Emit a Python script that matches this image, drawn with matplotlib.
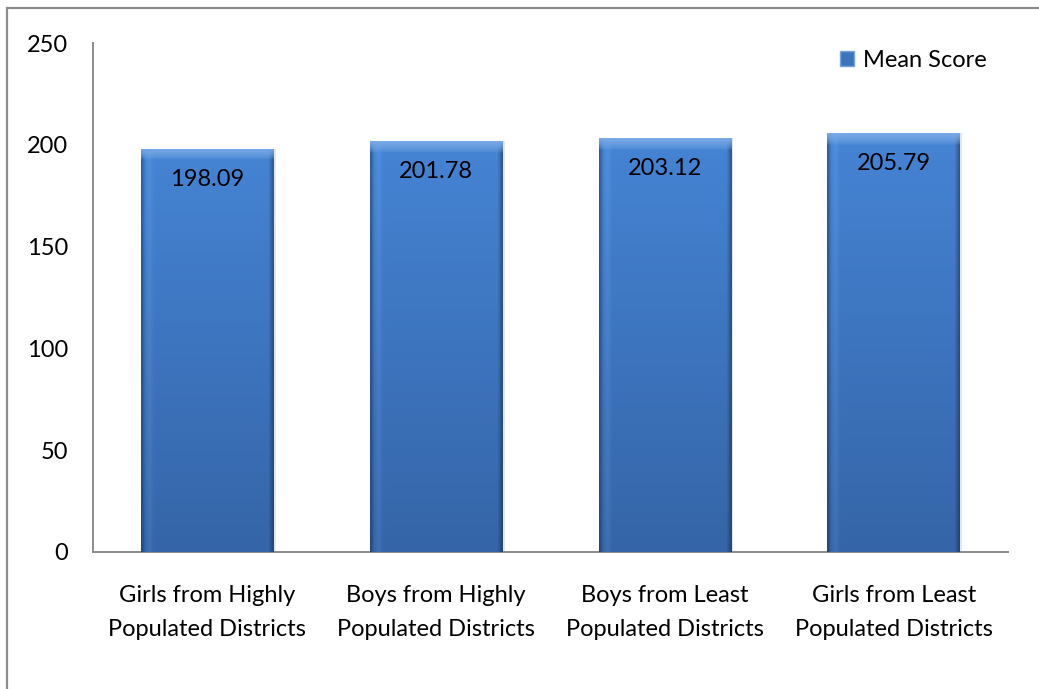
import numpy as np
import matplotlib
matplotlib.use("Agg")
import matplotlib.pyplot as plt
from matplotlib.patches import Rectangle
from matplotlib.colors import to_rgb

categories = [
    "Girls from Highly\nPopulated Districts",
    "Boys from Highly\nPopulated Districts",
    "Boys from Least\nPopulated Districts",
    "Girls from Least\nPopulated Districts",
]
mean_scores = [198.09, 201.78, 203.12, 205.79]
y_ticks = [0, 50, 100, 150, 200, 250]
series_name = "Mean Score"

plt.rcParams["font.family"] = ["Lato", "DejaVu Sans"]
FS = 17

fig = plt.figure(figsize=(10.39, 6.89), dpi=100)
fig.patch.set_facecolor("white")

# outer frame of the chart area
fig.add_artist(Rectangle((7 / 1039, -0.01), 1.1, 1 - 8 / 689 + 0.01,
                         transform=fig.transFigure, fill=False,
                         edgecolor="#8c8c8c", linewidth=1.6))

ax = fig.add_axes([93 / 1039, 1 - 552 / 689, (1008 - 93) / 1039, (552 - 43) / 689])
x = np.arange(len(categories))
bars = ax.bar(x, mean_scores, width=0.58, color="#3c74be", edgecolor="none",
              label=series_name, zorder=2)


def bevel_image(h=400, w=132):
    """Shaded face of a bevelled bar: light top rim, darker sides."""
    top = np.array(to_rgb("#4584d4"))
    bottom = np.array(to_rgb("#3565a8"))
    t = np.linspace(0, 1, h)[:, None, None]
    img = top * (1 - t) + bottom * t
    img = np.repeat(img, w, axis=1)
    xs = np.arange(w)
    # dark thin edges on both sides, right one stronger
    right = np.clip((xs - (w - 6)) / 6, 0, 1)[None, :, None]
    left = np.clip((4 - xs) / 4, 0, 1)[None, :, None]
    img = img * (1 - 0.4 * right) * (1 - 0.3 * left)
    # faint highlight line near the left side
    hl = np.exp(-((xs - 8) / 3.0) ** 2)[None, :, None]
    img = img + 0.04 * hl
    # bright top bevel
    ys = np.arange(h)[:, None, None]
    rim = np.clip((11 - ys) / 11, 0, 1) ** 0.7
    img = img * (1 - rim) + np.array(to_rgb("#7aaae6")) * rim
    return np.clip(img, 0, 1)


face = bevel_image()
for b in bars:
    x0, w_, h_ = b.get_x(), b.get_width(), b.get_height()
    im = ax.imshow(face, extent=(x0, x0 + w_, 0, h_), aspect="auto",
                   origin="upper", zorder=3, interpolation="bilinear")
    im.set_clip_path(b)
    # soft shadow to the right of each bar
    ax.add_patch(Rectangle((x0 + w_, 0), 0.01, h_, facecolor="#d4d4d4",
                           edgecolor="none", alpha=0.6, zorder=1))

for xi, v in zip(x, mean_scores):
    ax.text(xi, v - 15, f"{v:.2f}", ha="center", va="center",
            fontsize=FS, color="black", zorder=4)

ax.set_xlim(-0.5, len(categories) - 0.5)
ax.set_ylim(0, 250)
ax.set_yticks(y_ticks)
ax.set_yticklabels([str(t) for t in y_ticks])
ax.set_xticks(x)
ax.set_xticklabels(categories, linespacing=1.78)
ax.tick_params(axis="y", length=0, pad=18, labelsize=FS)
ax.tick_params(axis="x", length=0, pad=23.5, labelsize=FS)

for s in ("top", "right"):
    ax.spines[s].set_visible(False)
for s in ("left", "bottom"):
    ax.spines[s].set_color("#8c8c8c")
    ax.spines[s].set_linewidth(1.4)

proxy = Rectangle((0, 0), 1, 1, facecolor="#3c74be", edgecolor="#7aa3da")
ax.legend([proxy], [series_name], loc="upper right",
          bbox_to_anchor=(0.99, 1.01), frameon=False, fontsize=FS,
          handlelength=0.6, handleheight=0.6, handletextpad=0.4,
          borderaxespad=0.1)

fig.savefig("out.png", dpi=100, facecolor="white")
